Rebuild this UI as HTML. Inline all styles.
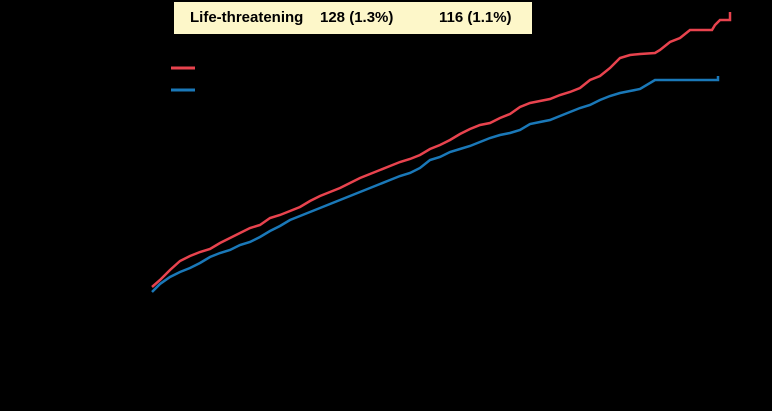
<!DOCTYPE html>
<html><head><meta charset="utf-8"><style>
html,body{margin:0;padding:0;background:#000;}
body{width:772px;height:411px;overflow:hidden;position:relative;font-family:"Liberation Sans",sans-serif;}
#box{position:absolute;left:174px;top:2px;width:358px;height:32px;background:#fdf7c9;font-weight:bold;font-size:15px;color:#000;line-height:32px;}
#box span{position:absolute;top:0;}
</style></head><body>
<div id="box">
<span style="left:16px">Life-threatening</span>
<span style="left:146px">128 (1.3%)</span>
<span style="left:265px">116 (1.1%)</span>
</div>
<svg id="chart" width="772" height="411" style="position:absolute;left:0;top:0">
<line x1="171" y1="68" x2="195" y2="68" stroke="#e8434e" stroke-width="3"/>
<line x1="171" y1="90" x2="195" y2="90" stroke="#1a78b8" stroke-width="3"/>
</svg>
<script>
const redDays=[0,8,18,28,38,48,58,68,78,88,98,108,118,128,138,148,158,168,178,188,198,208,218,228,238,248,258,268,278,288,298,308,318,328,338,348,358,368,378,388,398,408,418,428,438,448,458,468,478,488,503,508,518,528,538,548,560,563,568,578,578];
const redVals=[0.04,0.075,0.125,0.17,0.195,0.215,0.23,0.26,0.285,0.31,0.335,0.35,0.385,0.40,0.42,0.44,0.47,0.495,0.515,0.535,0.56,0.585,0.605,0.625,0.645,0.665,0.68,0.70,0.73,0.75,0.775,0.805,0.83,0.85,0.86,0.885,0.905,0.94,0.96,0.97,0.98,1.0,1.015,1.035,1.075,1.095,1.135,1.185,1.2,1.205,1.21,1.225,1.265,1.285,1.325,1.325,1.325,1.35,1.375,1.375,1.415];
const blueDays=[0,8,18,28,38,48,58,68,78,88,98,108,118,128,138,148,158,168,178,188,198,208,218,228,238,248,258,268,278,288,298,308,318,328,338,348,358,368,378,388,398,408,418,428,438,448,458,468,478,488,503,518,566,566];
const blueVals=[0.015,0.055,0.09,0.115,0.135,0.16,0.19,0.21,0.225,0.25,0.265,0.29,0.32,0.345,0.375,0.395,0.415,0.435,0.455,0.475,0.495,0.515,0.535,0.555,0.575,0.595,0.61,0.635,0.675,0.69,0.715,0.73,0.745,0.765,0.785,0.80,0.81,0.825,0.855,0.865,0.875,0.895,0.915,0.935,0.95,0.975,0.995,1.01,1.02,1.03,1.075,1.075,1.075,1.095];
function xScale(d){return 152+d;}
function yScale(v){return 295-v*200;}
const svg=document.getElementById('chart');
function draw(xs,ys,color,name){
  const p=document.createElementNS('http://www.w3.org/2000/svg','polyline');
  p.setAttribute('points',xs.map((d,i)=>xScale(d)+','+yScale(ys[i])).join(' '));
  p.setAttribute('fill','none');p.setAttribute('stroke',color);p.setAttribute('stroke-width','2.5');
  
  
  svg.appendChild(p);
}
draw(redDays,redVals,'#e8434e','red-series-line');
draw(blueDays,blueVals,'#1a78b8','blue-series-line');
</script>
</body></html>
